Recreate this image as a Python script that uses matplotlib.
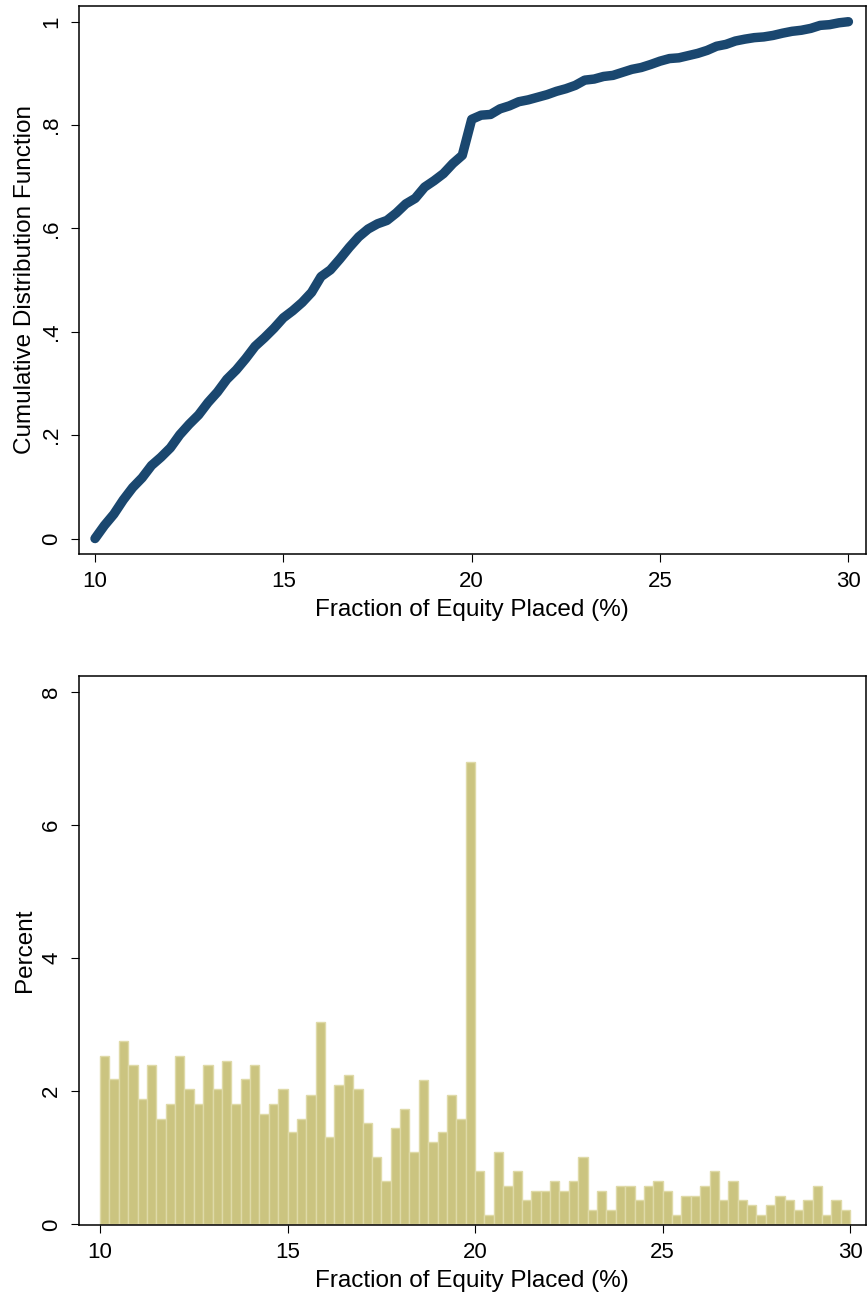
import numpy as np
import matplotlib
matplotlib.use("Agg")
import matplotlib.pyplot as plt

plt.rcParams['font.family'] = ['Liberation Sans', 'DejaVu Sans']

# histogram of fraction of equity placed, bins of 0.25 from 10 to 30 (percent of obs)
bin_start = 10.0
bin_width = 0.25
pct = [
    2.53, 2.18, 2.75, 2.39, 1.88, 2.39, 1.59, 1.81, 2.53, 2.03,
    1.81, 2.39, 2.03, 2.46, 1.81, 2.18, 2.39, 1.66, 1.81, 2.03,
    1.38, 1.59, 1.95, 3.04, 1.31, 2.10, 2.24, 2.03, 1.52, 1.01,
    0.65, 1.45, 1.74, 1.08, 2.17, 1.23, 1.38, 1.95, 1.59, 6.95,
    0.80, 0.14, 1.08, 0.58, 0.80, 0.36, 0.50, 0.50, 0.65, 0.50,
    0.65, 1.01, 0.21, 0.50, 0.21, 0.58, 0.58, 0.36, 0.58, 0.65,
    0.50, 0.14, 0.43, 0.43, 0.58, 0.80, 0.36, 0.65, 0.36, 0.29,
    0.14, 0.29, 0.43, 0.36, 0.21, 0.36, 0.58, 0.14, 0.36, 0.21,
]
x_ticks = [10, 15, 20, 25, 30]
cdf_yticks = [0, 0.2, 0.4, 0.6, 0.8, 1]
cdf_ylabels = ['0', '.2', '.4', '.6', '.8', '1']
pct_yticks = [0, 2, 4, 6, 8]
xlabel = "Fraction of Equity Placed (%)"

pct = np.array(pct)
edges = bin_start + bin_width * np.arange(len(pct) + 1)
# cumulative distribution from the same binned data
cdf = np.concatenate([[0.0], np.cumsum(pct)]) / pct.sum()

navy = '#1a476f'
khaki = '#cbc480'
khaki_edge = '#dfdaa8'

fig = plt.figure(figsize=(8.68, 12.93), dpi=100)
ax1 = fig.add_axes([0.0910, 0.5715, 0.9064, 0.4241])
ax2 = fig.add_axes([0.0910, 0.0526, 0.9062, 0.4246])

# CDF panel
ax1.plot(edges, cdf, color=navy, lw=6.8, solid_capstyle='round',
         solid_joinstyle='round')
ax1.set_xlim(9.575, 30.46)
ax1.set_ylim(-0.030, 1.031)
ax1.set_yticks(cdf_yticks)
ax1.set_yticklabels(cdf_ylabels)
ax1.set_ylabel("Cumulative Distribution Function", fontsize=17.5, labelpad=4)

# histogram panel
ax2.bar(edges[:-1], pct, width=bin_width, align='edge', color=khaki,
        edgecolor=khaki_edge, linewidth=1.0)
ax2.set_xlim(9.44, 30.41)
ax2.set_ylim(-0.01, 8.24)
ax2.set_yticks(pct_yticks)
ax2.set_ylabel("Percent", fontsize=17.5, labelpad=4)

for ax in (ax1, ax2):
    ax.set_xticks(x_ticks)
    ax.set_xlabel(xlabel, fontsize=17.5, labelpad=5)
    ax.tick_params(direction='out', length=6, width=0.8, labelsize=16,
                   pad=6, color='black')
    for lab in ax.get_yticklabels():
        lab.set_rotation(90)
        lab.set_va('center')
    for sp in ax.spines.values():
        sp.set_linewidth(1.1)

fig.savefig("out.png", dpi=100, facecolor='white')
